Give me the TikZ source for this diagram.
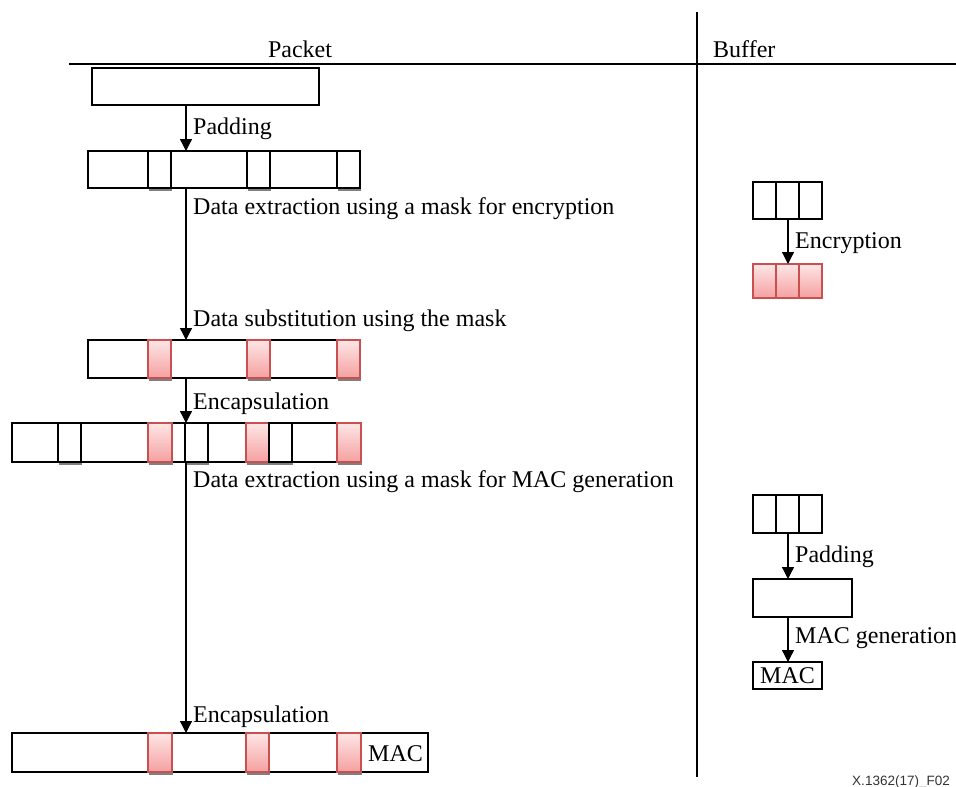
\documentclass[tikz,border=0pt]{standalone}
\usepackage{fontspec}
\setmainfont{Liberation Serif}
\setsansfont{Liberation Sans}
\usetikzlibrary{arrows.meta,shadows}
\definecolor{cellred}{RGB}{200,80,80}
\definecolor{celltop}{RGB}{254,230,230}
\definecolor{cellbot}{RGB}{245,160,160}
\tikzset{
  base/.style={draw=black, line width=1.3pt, inner sep=0pt, outer sep=0pt, anchor=north west},
  box/.style={base, fill=white},
  wcell/.style={base, fill=white, minimum width=23pt,
    drop shadow={shadow xshift=1pt, shadow yshift=-3pt, fill=black!50, opacity=1}},
  pcell/.style={base, draw=cellred, top color=celltop, bottom color=cellbot, minimum width=23pt,
    drop shadow={shadow xshift=1pt, shadow yshift=-3pt, fill=black!50, opacity=1}},
  bcell/.style={base, fill=white, minimum width=23pt},
  bpcell/.style={base, draw=cellred, top color=celltop, bottom color=cellbot, minimum width=23pt},
  lbl/.style={anchor=base west, inner sep=0pt, font=\fontsize{24}{28}\selectfont},
  arr/.style={line width=1.3pt, -{Triangle[length=12pt,width=12pt]}},
  rule/.style={line width=1.3pt},
}
\begin{document}
\begin{tikzpicture}[x=1pt,y=-1pt]
\useasboundingbox (0,0) rectangle (956,787);

% column rules and headings
\coordinate (hl) at (69,64);
\coordinate (hr) at (956,64);
\coordinate (vt) at (697,12);
\coordinate (vb) at (697,777);
\draw[rule] (hl) -- (hr);
\draw[rule] (vt) -- (vb);
\node[lbl, anchor=base] (hpacket) at (300,57) {Packet};
\node[lbl] (hbuffer) at (713,57) {Buffer};

% arrow axes
\coordinate (pa) at (186,0);
\coordinate (ba) at (788,0);

% ---- packet column ----
\node[box, minimum width=227pt, minimum height=37pt] (p1) at (92,68) {};

\node[box, minimum width=272pt, minimum height=37pt] (p2) at (88,151) {};
\node[wcell, minimum height=37pt] (p2a) at (148,151) {};
\node[wcell, minimum height=37pt] (p2b) at (247,151) {};
\node[wcell, minimum height=37pt] (p2c) at (337,151) {};

\node[box, minimum width=272pt, minimum height=38pt] (p3) at (88,340) {};
\node[pcell, minimum height=38pt] (p3a) at (148,340) {};
\node[pcell, minimum height=38pt] (p3b) at (247,340) {};
\node[pcell, minimum height=38pt] (p3c) at (337,340) {};

\node[box, minimum width=349pt, minimum height=39pt] (p4) at (12,423) {};
\node[wcell, minimum height=39pt] (p4a) at (58,423) {};
\node[pcell, minimum height=39pt, minimum width=24pt] (p4b) at (148,423) {};
\node[wcell, minimum height=39pt] (p4c) at (185,423) {};
\node[pcell, minimum height=39pt] (p4d) at (246,423) {};
\node[wcell, minimum height=39pt] (p4e) at (269,423) {};
\node[pcell, minimum height=39pt, minimum width=24pt] (p4f) at (337,423) {};

\node[box, minimum width=416pt, minimum height=39pt] (p5) at (12,733) {};
\node[pcell, minimum height=39pt, minimum width=24pt] (p5a) at (148,733) {};
\node[pcell, minimum height=39pt] (p5b) at (246,733) {};
\node[pcell, minimum height=39pt, minimum width=24pt] (p5c) at (337,733) {};
\node[lbl] (p5mac) at (368,761) {MAC};

\draw[arr] (p1.south -| pa) -- (p2.north -| pa);
\draw[arr] (p2.south -| pa) -- (p3.north -| pa);
\draw[arr] (p3.south -| pa) -- (p4.north -| pa);
\draw[arr] (p4.south -| pa) -- (p5.north -| pa);

\node[lbl] (l1) at (193,134) {Padding};
\node[lbl] (l2) at (193,214) {Data extraction using a mask for encryption};
\node[lbl] (l3) at (193,326) {Data substitution using the mask};
\node[lbl] (l4) at (193,409) {Encapsulation};
\node[lbl] (l5) at (193,487) {Data extraction using a mask for MAC generation};
\node[lbl] (l6) at (193,722) {Encapsulation};

% ---- buffer column ----
\node[bcell, minimum height=37pt] (b1a) at (753,182) {};
\node[bcell, minimum height=37pt] (b1b) at (776,182) {};
\node[bcell, minimum height=37pt] (b1c) at (799,182) {};

\node[bpcell, minimum height=34pt] (b2a) at (753,264) {};
\node[bpcell, minimum height=34pt] (b2b) at (776,264) {};
\node[bpcell, minimum height=34pt] (b2c) at (799,264) {};

\node[bcell, minimum height=38pt] (b3a) at (753,495) {};
\node[bcell, minimum height=38pt] (b3b) at (776,495) {};
\node[bcell, minimum height=38pt] (b3c) at (799,495) {};

\node[box, minimum width=99pt, minimum height=38pt] (b4) at (753,579) {};
\node[box, minimum width=69pt, minimum height=27pt,
      font=\fontsize{24}{28}\selectfont] (b5) at (753,662) {MAC};

\draw[arr] (b1b.south -| ba) -- (b2b.north -| ba);
\draw[arr] (b3b.south -| ba) -- (b4.north -| ba);
\draw[arr] (b4.south -| ba) -- (b5.north -| ba);

\node[lbl] (bl1) at (795,248) {Encryption};
\node[lbl] (bl2) at (795,562) {Padding};
\node[lbl] (bl3) at (795,643) {MAC generation};

% figure reference
\node[anchor=base east, inner sep=0pt, font=\sffamily\fontsize{13.5}{16}\selectfont, text=black!80]
  (fig) at (950,785) {X.1362(17)\_F02};
\end{tikzpicture}
\end{document}
